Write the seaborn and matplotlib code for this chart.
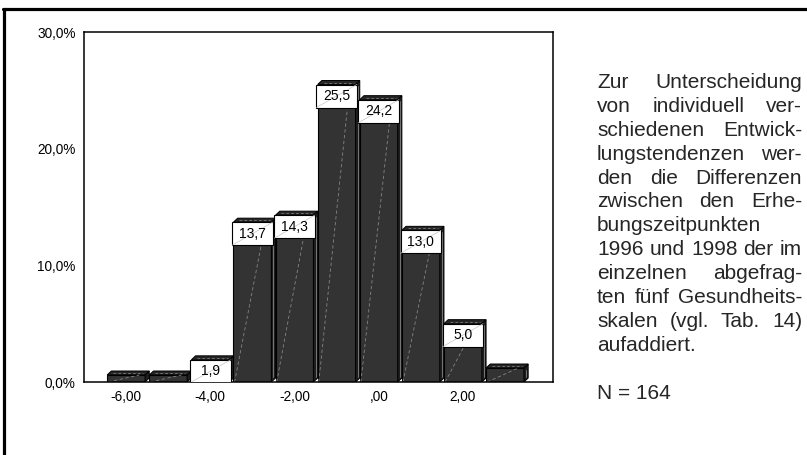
import matplotlib
matplotlib.use("Agg")
import matplotlib.pyplot as plt
from matplotlib.patches import Polygon, Rectangle
from matplotlib.lines import Line2D
import seaborn as sns

# Distribution of summed score differences (1998 minus 1996)
differences = [-6, -5, -4, -3, -2, -1, 0, 1, 2, 3]
percent = [0.6, 0.6, 1.9, 13.7, 14.3, 25.5, 24.2, 13.0, 5.0, 1.2]
value_labels = ["", "", "1,9", "13,7", "14,3", "25,5", "24,2", "13,0", "5,0", ""]

x_ticks = [-6, -4, -2, 0, 2]
x_tick_labels = ["-6,00", "-4,00", "-2,00", ",00", "2,00"]
y_ticks = [0, 10, 20, 30]
y_tick_labels = ["0,0%", "10,0%", "20,0%", "30,0%"]

# (line text, justified?)
paragraph = [
    ("Zur Unterscheidung", True),
    ("von individuell ver-", True),
    ("schiedenen Entwick-", True),
    ("lungstendenzen wer-", True),
    ("den die Differenzen", True),
    ("zwischen den Erhe-", True),
    ("bungszeitpunkten", False),
    ("1996 und 1998 der im", True),
    ("einzelnen abgefrag-", True),
    ("ten fünf Gesundheits-", True),
    ("skalen (vgl. Tab. 14)", True),
    ("aufaddiert.", False),
    ("", False),
    ("N = 164", False),
]

sns.set_style("white")
plt.rcParams["font.family"] = ["Liberation Sans", "DejaVu Sans"]

W, H = 807, 455
fig = plt.figure(figsize=(W / 100, H / 100), dpi=100)
fig.patch.set_facecolor("white")

ax_left, ax_right, ax_top, ax_bottom = 84, 553, 32, 382
ax = fig.add_axes([ax_left / W, 1 - ax_bottom / H,
                   (ax_right - ax_left) / W, (ax_bottom - ax_top) / H])

sns.barplot(x=differences, y=percent, native_scale=True, width=0.9,
            color="#333333", saturation=1, edgecolor="black", linewidth=0.8,
            errorbar=None, ax=ax)

ax.set_xlim(-7.0, 4.14)
ax.set_ylim(0, 30)

px_per_pct = (ax_bottom - ax_top) / 30.0
dx = 0.1                 # depth of the pseudo-3D faces (x units)
dy = 4.0 / px_per_pct    # depth in percent units
box_h = 23.0 / px_per_pct

bars = [p for p in ax.patches if isinstance(p, Rectangle)]
for bar, lab in zip(bars, value_labels):
    x0, w, h = bar.get_x(), bar.get_width(), bar.get_height()
    x1 = x0 + w
    bar.set_zorder(2)
    side = Polygon([(x1, 0), (x1 + dx, dy), (x1 + dx, h + dy), (x1, h)],
                   closed=True, facecolor="#1e1e1e", edgecolor="black",
                   linewidth=0.7, zorder=2)
    top = Polygon([(x0, h), (x0 + dx, h + dy), (x1 + dx, h + dy), (x1, h)],
                  closed=True, facecolor="#262626", edgecolor="black",
                  linewidth=0.7, zorder=2)
    ax.add_patch(side)
    ax.add_patch(top)
    ax.plot([x1 + dx * 0.5, x1 + dx * 0.5], [dy * 0.5 + 0.3, h + dy * 0.5 - 0.3],
            color="#9a9a9a", lw=0.5, zorder=2.5)
    ax.plot([x0 + dx * 0.5 + 0.1 * w, x1 + dx * 0.5 - 0.1 * w],
            [h + dy * 0.5, h + dy * 0.5], color="#8a8a8a", lw=0.5,
            ls=(0, (4, 3)), zorder=2.5)
    ax.plot([x0 + 0.03 * w, x0 + 0.85 * w], [0, h], color="#858585",
            lw=0.6, ls=(0, (4, 3)), zorder=2.5)
    if lab:
        bx0, bw = x0 - 0.03, w + 0.06
        ax.add_patch(Rectangle((bx0, h - box_h), bw, box_h, facecolor="white",
                               edgecolor="black", linewidth=0.8, zorder=5))
        ax.plot([bx0, bx0 + bw], [h - box_h, h], color="#c4c4c4", lw=0.5,
                zorder=5.5)
        ax.text(bx0 + bw / 2, h - box_h / 2, lab, ha="center", va="center",
                fontsize=10, color="black", zorder=6)

ax.set_xticks(x_ticks, x_tick_labels)
ax.set_xticks(differences, minor=True)
ax.set_yticks(y_ticks, y_tick_labels)
ax.tick_params(axis="both", which="both", direction="out", length=3,
               width=1, color="black", labelsize=9.8, labelcolor="black")
ax.tick_params(axis="x", which="major", pad=3)
ax.tick_params(axis="y", pad=3)
for s in ax.spines.values():
    s.set_visible(True)
    s.set_color("black")
    s.set_linewidth(1.1)

# frame around the whole figure (top and left)
fig.add_artist(Line2D([4.3 / W, 4.3 / W], [0, 1 - 8.7 / H], transform=fig.transFigure,
                      color="black", lw=2.3))
fig.add_artist(Line2D([3 / W, 1], [1 - 8.7 / H, 1 - 8.7 / H], transform=fig.transFigure,
                      color="black", lw=2.3))

# justified side paragraph
renderer = fig.canvas.get_renderer()
fs = 15
x_l, x_r = 597, 802
base0, step = 88.0, 23.9
for k, (line, justify) in enumerate(paragraph):
    if not line:
        continue
    yb = 1 - (base0 + k * step) / H
    words = line.split(" ")
    if not justify or len(words) == 1:
        fig.text(x_l / W, yb, line, fontsize=fs, va="baseline", ha="left")
        continue
    texts = [fig.text(0, yb, wd, fontsize=fs, va="baseline", ha="left")
             for wd in words]
    widths = [t.get_window_extent(renderer).width for t in texts]
    gap = (x_r - x_l - sum(widths)) / (len(words) - 1)
    xpos = x_l
    for t, wd in zip(texts, widths):
        t.set_x(xpos / W)
        xpos += wd + gap

fig.savefig("out.png", dpi=100)
